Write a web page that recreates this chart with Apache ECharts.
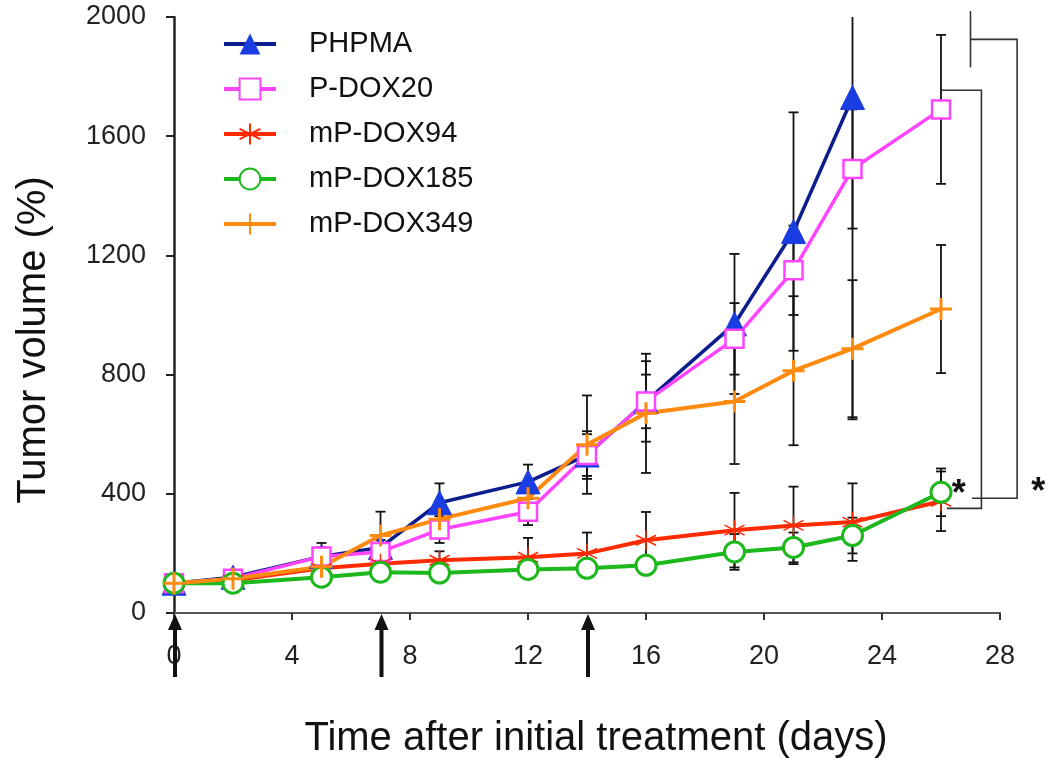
<!DOCTYPE html>
<html>
<head>
<meta charset="utf-8">
<script src="https://cdn.jsdelivr.net/npm/echarts@6/dist/echarts.min.js"></script>
<style>
html,body{margin:0;padding:0;background:#fff;}
#main{width:1050px;height:769px;}
</style>
</head>
<body>
<div id="main"></div>
<script>
// days after first treatment
var days=[0,2,5,7,9,12,14,16,19,21,23,26];
var names=['PHPMA','P-DOX20','mP-DOX94','mP-DOX185','mP-DOX349'];
// tumor volume (%) and error bars
var phpma=[100,120,190,220,370,440,530,710,970,1280,1730];
var phpmaErr=[0,15,45,40,65,58,80,90,235,400,1080];
var pdox20=[100,115,190,205,280,340,530,710,920,1150,1490,1690];
var pdox20Err=[0,10,30,40,45,45,70,135,120,150,200,250];
var mpdox94=[100,110,150,165,177,187,200,244,278,294,305,375];
var mpdox94Err=[0,10,20,25,30,65,70,95,125,130,130,100];
var mpdox185=[100,100,120,137,134,146,150,160,205,220,260,405];
var mpdox185Err=[0,10,15,20,20,20,20,20,60,50,60,80];
var mpdox349=[100,115,155,260,315,385,565,670,710,813,887,1020];
var mpdox349Err=[0,15,30,80,40,40,165,200,210,250,230,215];
// dosing days (arrows under the axis)
var doseDays=[0,7,14];
// significance brackets
var bracketInner=[[26,1754],[27.37,1754],[27.37,351],[26.2,351]];
var bracketOuterStub=[[27,2020],[27,1831]];
var bracketOuter=[[27,1925],[28.58,1925],[28.58,385],[27.05,385]];
var stars=[[26.6,395],[29.3,402]];

var font='"Liberation Sans", Arial, sans-serif';
var chart=echarts.init(document.getElementById('main'));

function pairs(v){
    var out=[];
    for(var i=0;i<v.length;i++){out.push([days[i],v[i]]);}
    return out;
}
function errData(v,e){
    var out=[];
    for(var i=0;i<v.length;i++){out.push([days[i],v[i],e[i]]);}
    return out;
}
function errSeries(v,e){
    return {
        type:'custom',
        clip:true,
        silent:true,
        z:1,
        data:errData(v,e),
        renderItem:function(params,api){
            var x=api.value(0),y=api.value(1),err=api.value(2);
            if(!err){return;}
            var top=api.coord([x,y+err]);
            var bot=api.coord([x,y-err]);
            var st={stroke:'#111',lineWidth:1.8};
            return {type:'group',children:[
                {type:'line',shape:{x1:top[0],y1:top[1],x2:bot[0],y2:bot[1]},style:st},
                {type:'line',shape:{x1:top[0]-5,y1:top[1],x2:top[0]+5,y2:top[1]},style:st},
                {type:'line',shape:{x1:bot[0]-5,y1:bot[1],x2:bot[0]+5,y2:bot[1]},style:st}
            ]};
        }
    };
}
// brackets drawn as one polyline each, outside the grid as well
function bracket(d){
    return {
        type:'custom',
        clip:false,
        silent:true,
        z:1,
        data:[0],
        renderItem:function(params,api){
            var pts=d.map(function(p){return api.coord(p);});
            return {type:'polyline',shape:{points:pts},style:{stroke:'#333',lineWidth:1.6,fill:null}};
        }
    };
}

var asterisk='path://M10 0 L10 20 M1.34 5 L18.66 15 M1.34 15 L18.66 5';
var plus='path://M10 0 L10 20 M0 10 L20 10';

var legendData=names.map(function(n){return {name:n};});

var option={
    animation:false,
    backgroundColor:'#fff',
    grid:{left:174,right:50,top:17,bottom:156},
    legend:{
        orient:'vertical',
        left:217,
        top:24,
        itemWidth:52,
        itemHeight:26,
        itemGap:15,
        data:legendData,
        lineStyle:{width:4},
        textStyle:{fontFamily:font,fontSize:29,color:'#111',lineHeight:30,padding:[0,0,0,28]}
    },
    xAxis:{
        type:'value',
        min:0,max:28,interval:4,
        name:'Time after initial treatment (days)',
        nameLocation:'middle',
        nameGap:106,
        nameTextStyle:{fontFamily:font,fontSize:40,color:'#111',padding:[0,0,0,18]},
        axisLine:{lineStyle:{color:'#555',width:2}},
        axisTick:{length:7,lineStyle:{color:'#333',width:2}},
        axisLabel:{fontFamily:font,fontSize:27,color:'#222',margin:30},
        splitLine:{show:false}
    },
    yAxis:{
        type:'value',
        min:0,max:2000,interval:400,
        name:'Tumor volume (%)',
        nameLocation:'middle',
        nameGap:120,
        nameTextStyle:{fontFamily:font,fontSize:40,color:'#111',padding:[0,50,0,0]},
        axisLine:{show:true,lineStyle:{color:'#222',width:2.5}},
        axisTick:{show:true,length:8,lineStyle:{color:'#222',width:2}},
        axisLabel:{fontFamily:font,fontSize:27,color:'#222',margin:28,formatter:function(v){return String(v);}},
        splitLine:{show:false}
    },
    series:[
        errSeries(phpma,phpmaErr),
        errSeries(pdox20,pdox20Err),
        errSeries(mpdox94,mpdox94Err),
        errSeries(mpdox185,mpdox185Err),
        errSeries(mpdox349,mpdox349Err),
        {
            name:names[0],type:'line',data:pairs(phpma),z:3,
            symbol:'triangle',symbolSize:24,
            lineStyle:{color:'#0c1d8e',width:3.5},
            itemStyle:{color:'#1a3de2',borderColor:'#1a3de2'}
        },
        {
            name:names[1],type:'line',data:pairs(pdox20),z:3,
            symbol:'rect',symbolSize:18,
            lineStyle:{color:'#ff44ff',width:3.5},
            itemStyle:{color:'#fff',borderColor:'#ff44ff',borderWidth:2.5}
        },
        {
            name:names[2],type:'line',data:pairs(mpdox94),z:3,
            symbol:asterisk,symbolSize:20,
            lineStyle:{color:'#ff2a00',width:4},
            itemStyle:{color:'#ff2a00',borderColor:'#ff2a00',borderWidth:1.5}
        },
        {
            name:names[3],type:'line',data:pairs(mpdox185),z:3,
            symbol:'circle',symbolSize:20,
            lineStyle:{color:'#1cb81c',width:4},
            itemStyle:{color:'#fff',borderColor:'#1cb81c',borderWidth:3}
        },
        {
            name:names[4],type:'line',data:pairs(mpdox349),z:3,
            symbol:plus,symbolSize:22,
            lineStyle:{color:'#ff8a10',width:4},
            itemStyle:{color:'#ff8a10',borderColor:'#ff8a10',borderWidth:3}
        },
        bracket(bracketInner),
        bracket(bracketOuterStub),
        bracket(bracketOuter),
        {
            type:'custom',
            clip:false,
            silent:true,
            z:4,
            data:stars,
            renderItem:function(params,api){
                var p=api.coord([api.value(0),api.value(1)]);
                return {type:'text',x:p[0],y:p[1],style:{text:'*',font:'bold 36px '+font,fill:'#111',align:'center',verticalAlign:'middle'}};
            }
        },
        {
            type:'custom',
            clip:false,
            silent:true,
            z:4,
            data:doseDays.map(function(d){return [d,0];}),
            renderItem:function(params,api){
                var p=api.coord([api.value(0),0]);
                var x=p[0]+1,y=p[1];
                return {type:'group',children:[
                    {type:'line',shape:{x1:x,y1:y+10,x2:x,y2:y+64},style:{stroke:'#111',lineWidth:4}},
                    {type:'polygon',shape:{points:[[x,y+1],[x-7,y+17],[x+7,y+17]]},style:{fill:'#111'}}
                ]};
            }
        }
    ]
};
chart.setOption(option);
</script>
</body>
</html>
